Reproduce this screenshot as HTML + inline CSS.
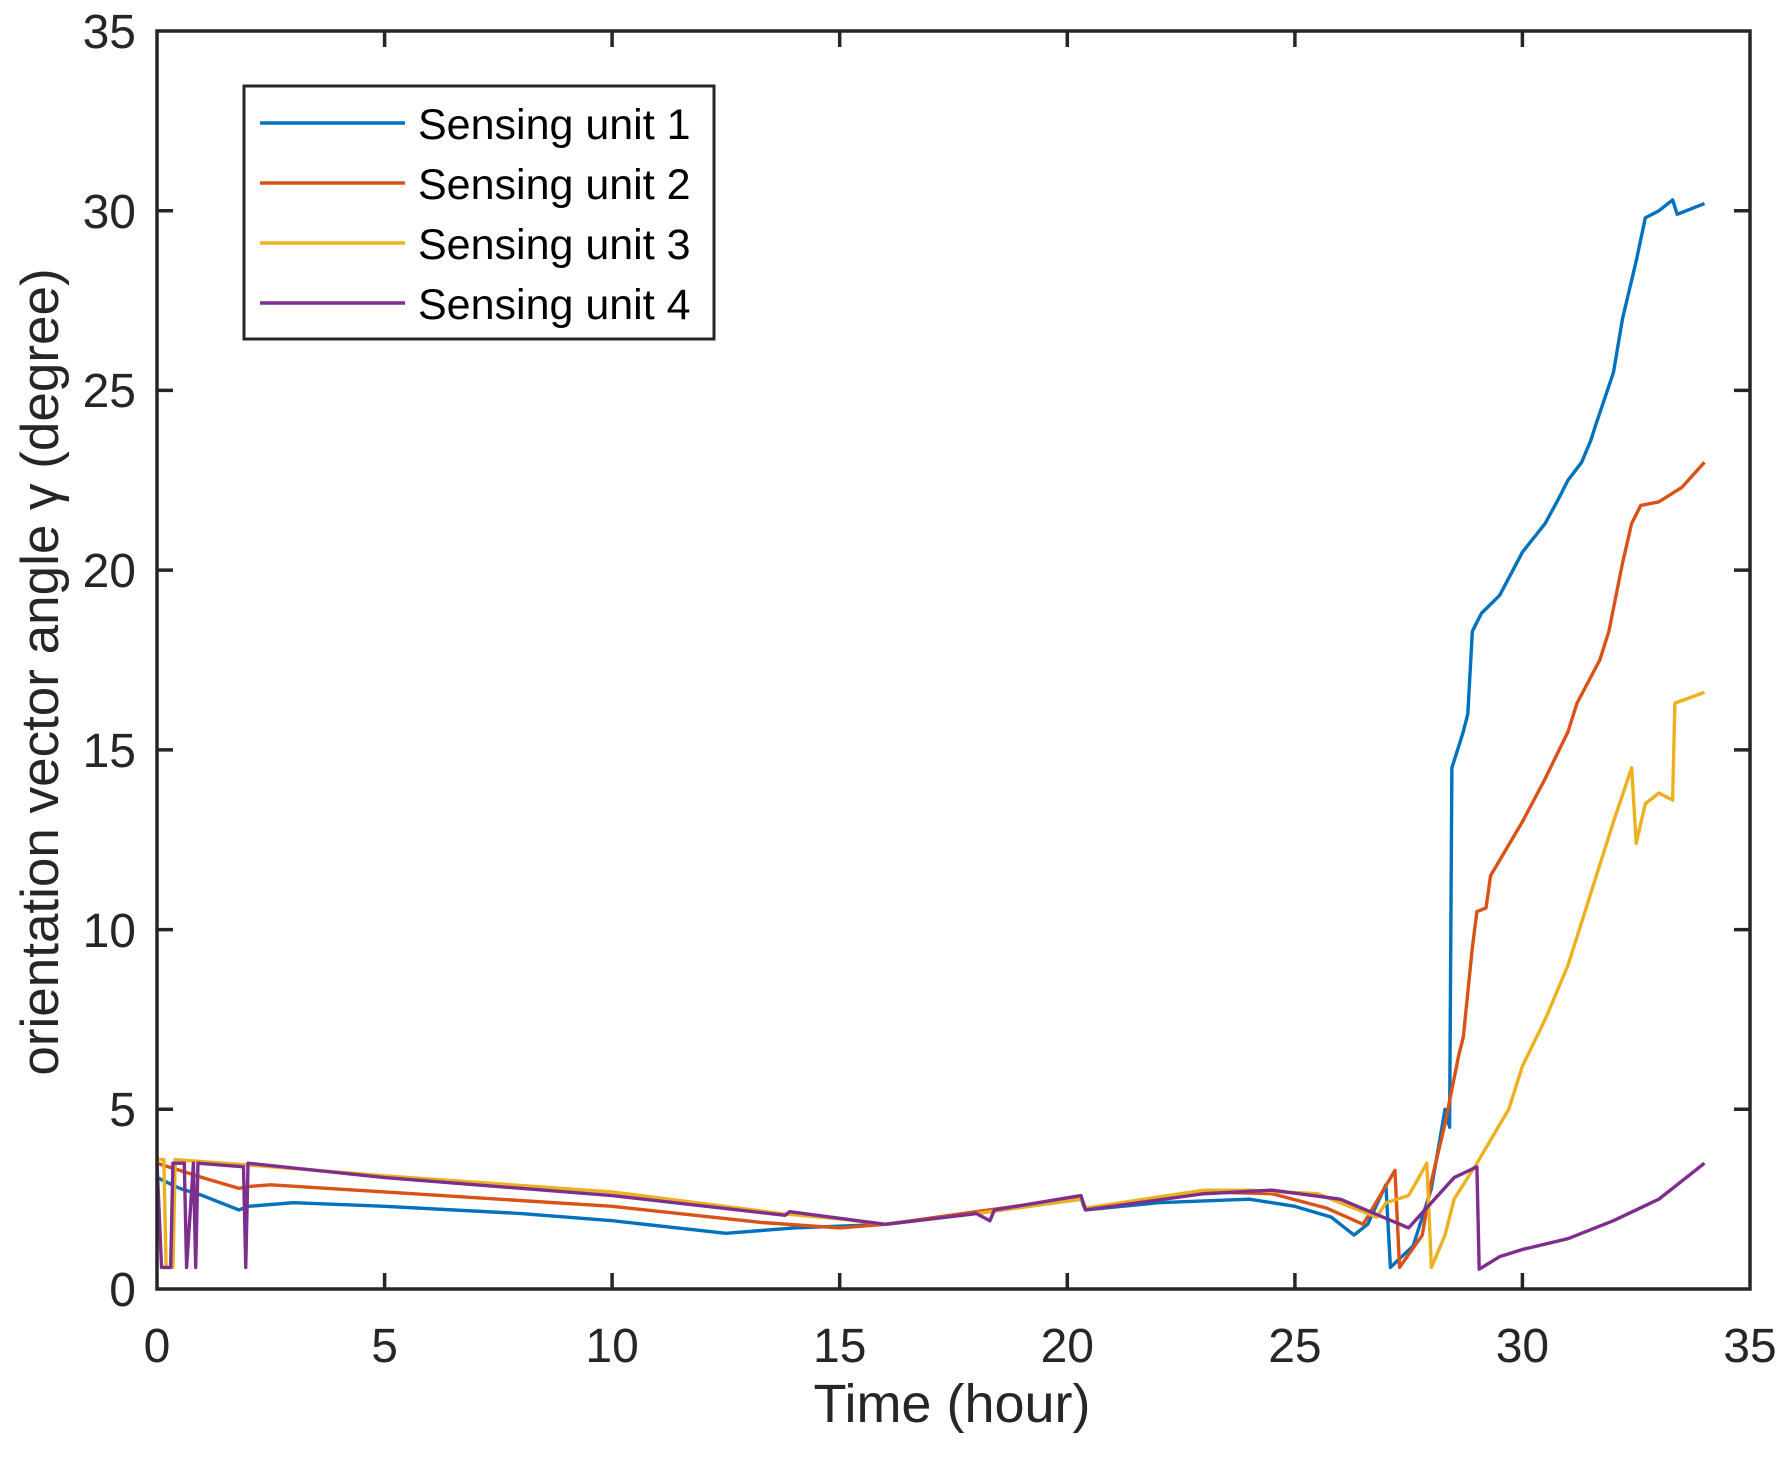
<!DOCTYPE html>
<html><head><style>body{margin:0;background:#fff}svg{display:block}</style></head><body>
<svg width="1790" height="1457" viewBox="0 0 1790 1457" xmlns="http://www.w3.org/2000/svg" font-family="Liberation Sans, sans-serif" fill="#262626">
<g transform="translate(157,1289) scale(45.514,-35.943)" fill="none" stroke-width="3.4" stroke-linejoin="round">
<polyline vector-effect="non-scaling-stroke" stroke="#0072BD" points="0,3.1 0.5,2.8 1,2.6 1.8,2.2 2,2.3 3,2.4 5,2.3 8,2.1 10,1.9 12.5,1.55 14,1.7 16,1.8 18,2.1 20.3,2.5 20.4,2.2 22,2.4 24,2.5 25,2.3 25.8,2.0 26.3,1.5 26.6,1.8 27,2.9 27.1,0.6 27.6,1.2 28,2.8 28.3,5 28.4,4.5 28.45,14.5 28.7,15.5 28.8,16 28.9,18.3 29.1,18.8 29.5,19.3 30,20.5 30.5,21.3 30.8,22.0 31,22.5 31.3,23 31.5,23.6 31.6,24 32,25.5 32.2,27 32.5,28.6 32.7,29.8 33,30.0 33.3,30.3 33.4,29.9 34,30.2"/>
<polyline vector-effect="non-scaling-stroke" stroke="#D95319" points="0,3.5 0.5,3.3 1,3.1 1.8,2.8 2,2.85 2.5,2.9 5,2.7 10,2.3 13.3,1.85 15,1.7 16,1.8 18,2.15 20.3,2.55 20.4,2.25 23,2.7 24.5,2.65 25.7,2.25 26.5,1.8 27.2,3.3 27.3,0.6 27.8,1.5 28,3 28.3,4.6 28.6,6.5 28.7,7 28.9,9.5 29,10.5 29.2,10.6 29.3,11.5 30,13 30.5,14.2 31,15.5 31.2,16.3 31.7,17.5 31.9,18.3 32.2,20.2 32.4,21.3 32.6,21.8 33,21.9 33.5,22.3 34,23"/>
<polyline vector-effect="non-scaling-stroke" stroke="#EDB120" points="0,3.6 0.15,3.6 0.2,0.6 0.35,0.6 0.4,3.6 2,3.45 5,3.15 10,2.7 13.7,2.1 15,1.95 16,1.8 18,2.1 20.3,2.5 20.4,2.25 23,2.75 24,2.75 25.5,2.65 26.8,2.0 27,2.4 27.5,2.6 27.9,3.5 28,0.6 28.3,1.5 28.5,2.5 29,3.5 29.7,5 30,6.2 30.5,7.5 31,9 31.5,11 32,13 32.4,14.5 32.5,12.4 32.7,13.5 33,13.8 33.3,13.6 33.35,16.3 34,16.6"/>
<polyline vector-effect="non-scaling-stroke" stroke="#7E2F8E" points="0,3.5 0.1,0.6 0.3,0.6 0.35,3.5 0.6,3.5 0.65,0.6 0.8,3.5 0.85,0.6 0.9,3.5 1.9,3.4 1.95,0.6 2,3.5 5,3.1 10,2.6 13.8,2.05 13.9,2.15 16,1.8 18,2.1 18.3,1.9 18.4,2.2 20.3,2.6 20.4,2.2 23,2.65 24.5,2.75 26,2.5 27.5,1.7 28.5,3.1 29,3.4 29.05,0.55 29.5,0.9 30,1.1 31,1.4 32,1.9 33,2.5 34,3.5"/>
</g>
<rect x="157" y="31" width="1593" height="1258" fill="none" stroke="#262626" stroke-width="3.5"/>
<g stroke="#262626" stroke-width="3.5">
<path d="M384.6,1289v-16M612.1,1289v-16M839.7,1289v-16M1067.3,1289v-16M1294.9,1289v-16M1522.4,1289v-16M384.6,31v16M612.1,31v16M839.7,31v16M1067.3,31v16M1294.9,31v16M1522.4,31v16"/>
<path d="M157,1109.3h16M157,929.6h16M157,749.9h16M157,570.1h16M157,390.4h16M157,210.7h16M1750,1109.3h-16M1750,929.6h-16M1750,749.9h-16M1750,570.1h-16M1750,390.4h-16M1750,210.7h-16"/>
</g>
<g font-size="48" text-anchor="middle">
<text x="157" y="1362">0</text><text x="384.6" y="1362">5</text><text x="612.1" y="1362">10</text><text x="839.7" y="1362">15</text><text x="1067.3" y="1362">20</text><text x="1294.9" y="1362">25</text><text x="1522.4" y="1362">30</text><text x="1750" y="1362">35</text>
</g>
<g font-size="48" text-anchor="end">
<text x="136" y="1306">0</text><text x="136" y="1126">5</text><text x="136" y="947">10</text><text x="136" y="767">15</text><text x="136" y="587">20</text><text x="136" y="407">25</text><text x="136" y="228">30</text><text x="136" y="48">35</text>
</g>
<text x="952" y="1422" font-size="54" text-anchor="middle">Time (hour)</text>
<text transform="translate(58,672) rotate(-90)" font-size="53" text-anchor="middle">orientation vector angle γ (degree)</text>
<rect x="244" y="86" width="470" height="253" fill="#fff" stroke="#262626" stroke-width="3"/>
<g stroke-width="3.4">
<line x1="260" y1="123" x2="405" y2="123" stroke="#0072BD"/>
<line x1="260" y1="183" x2="405" y2="183" stroke="#D95319"/>
<line x1="260" y1="243" x2="405" y2="243" stroke="#EDB120"/>
<line x1="260" y1="303" x2="405" y2="303" stroke="#7E2F8E"/>
</g>
<g font-size="43" fill="#000">
<text x="418" y="139">Sensing unit 1</text><text x="418" y="199">Sensing unit 2</text><text x="418" y="259">Sensing unit 3</text><text x="418" y="319">Sensing unit 4</text>
</g>
</svg>
</body></html>
